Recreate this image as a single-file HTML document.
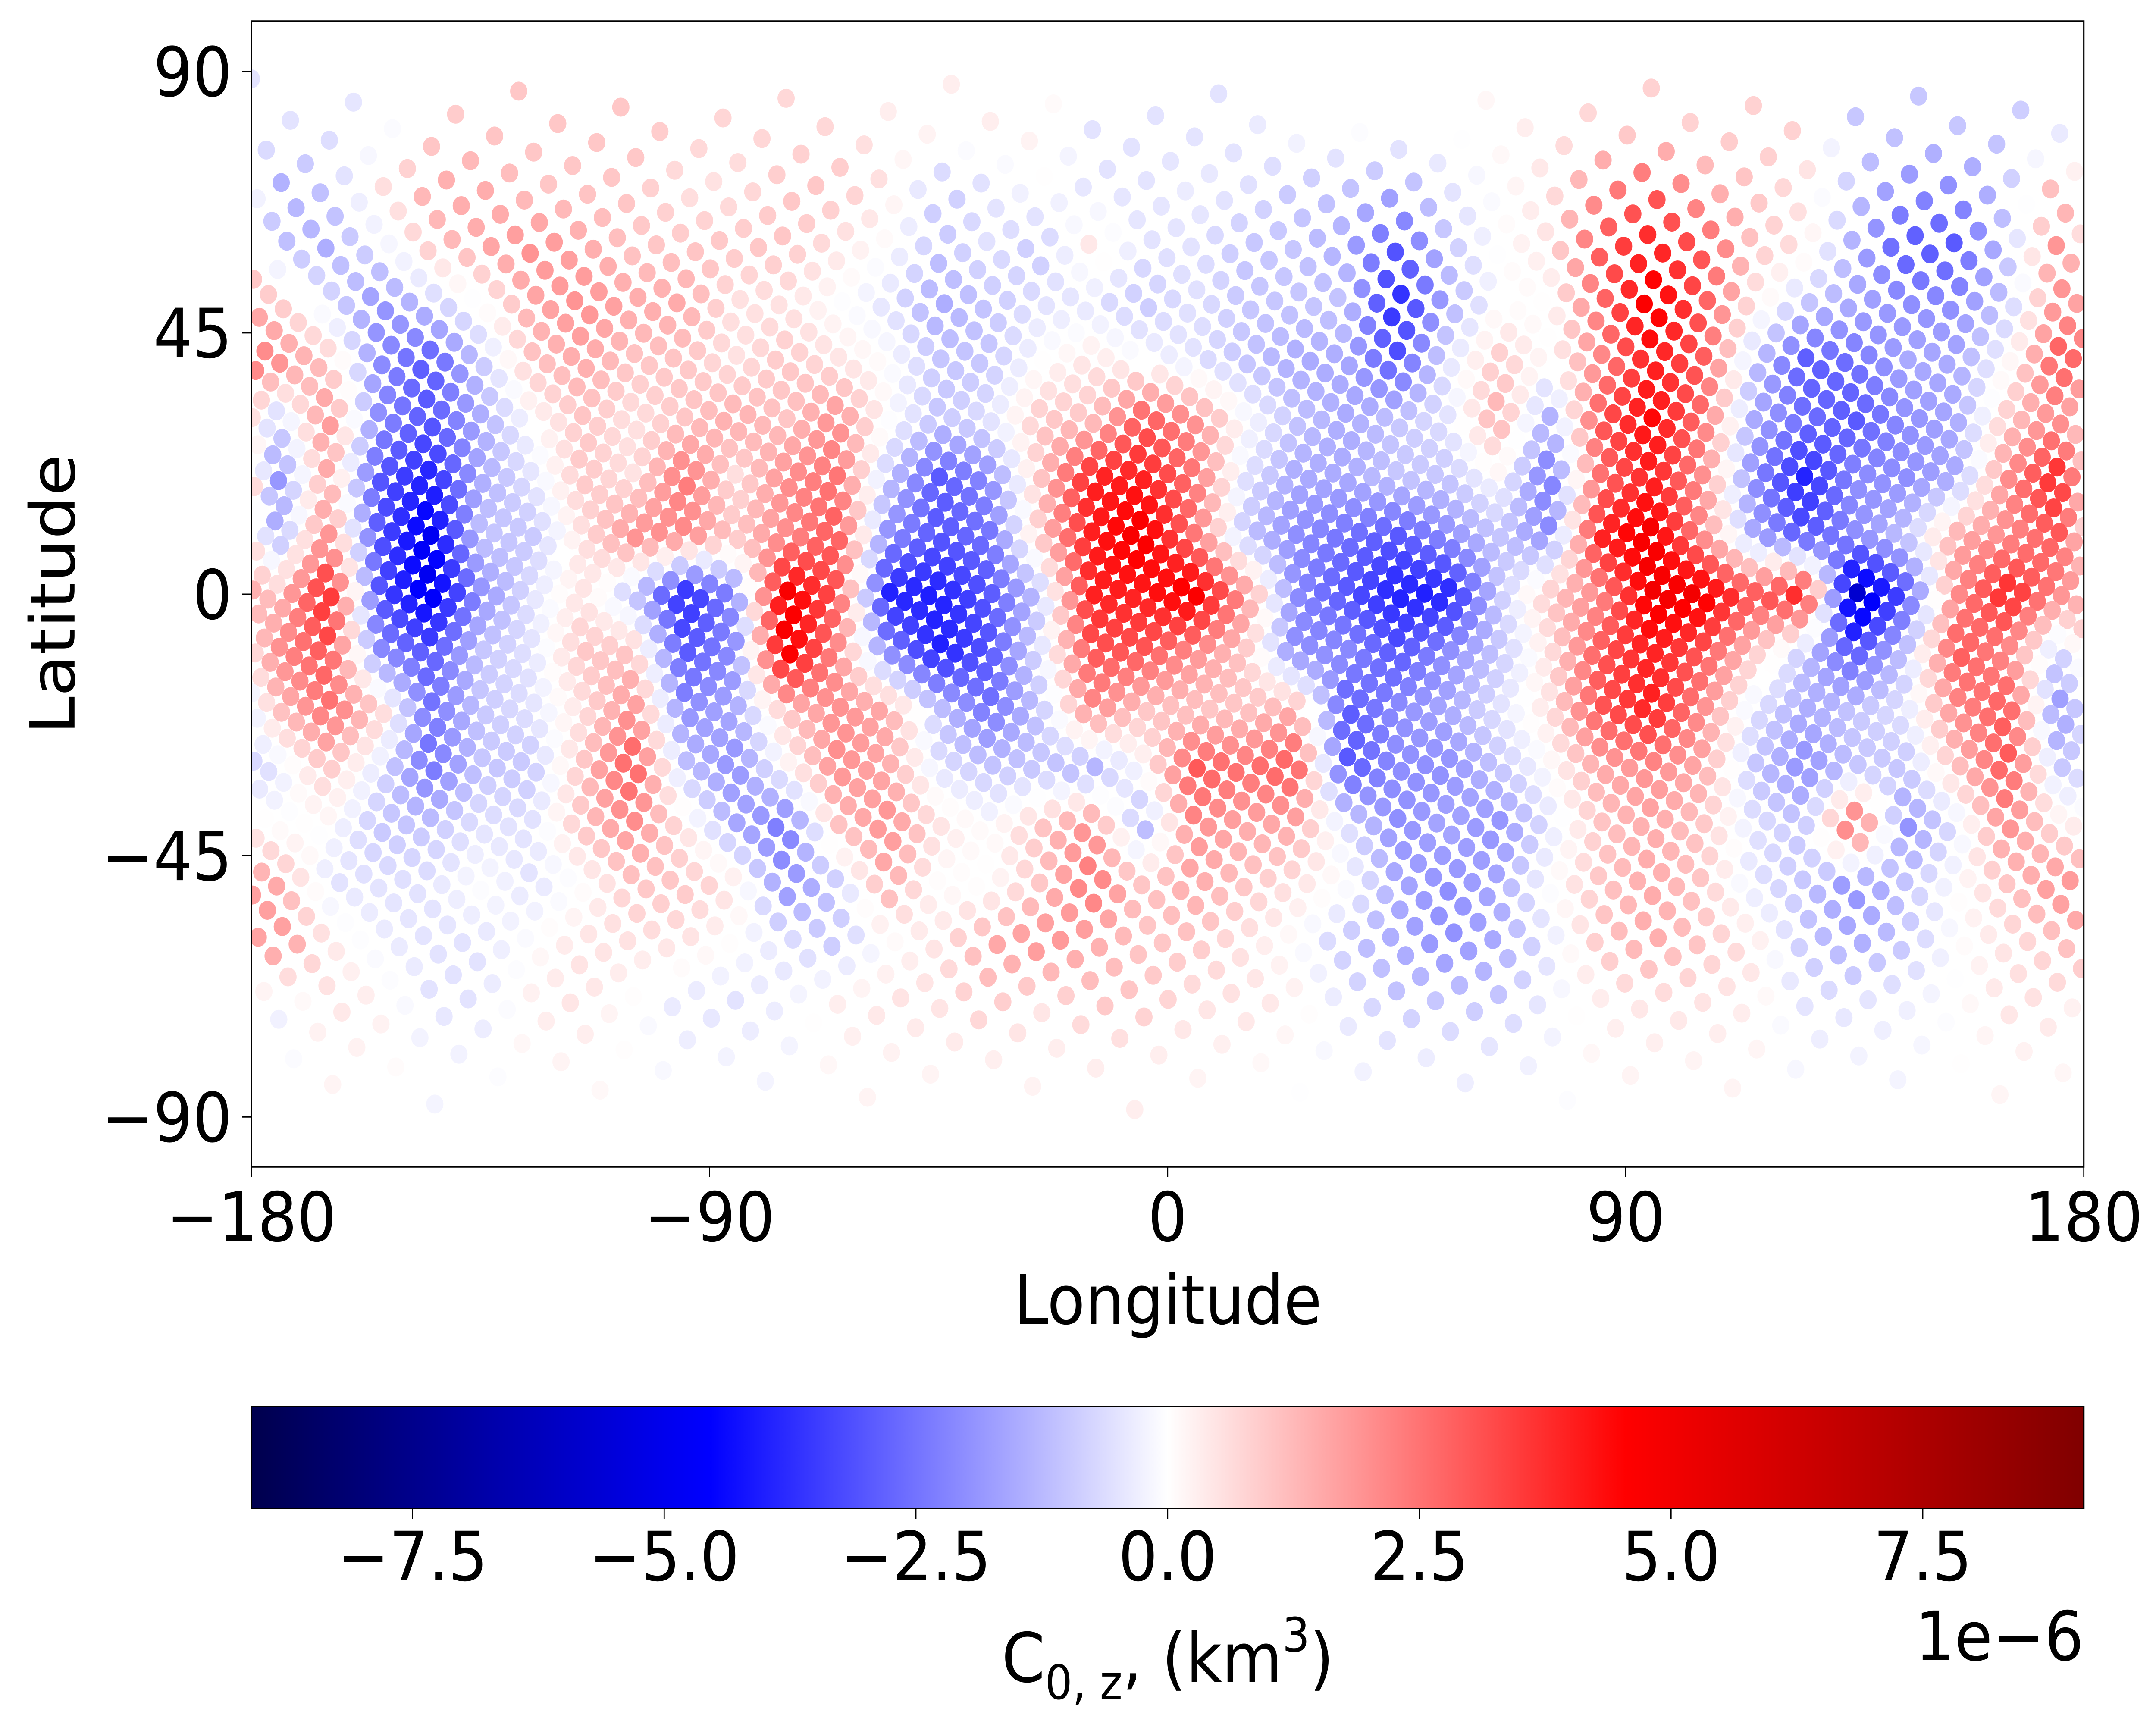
<!DOCTYPE html>
<html><head><meta charset="utf-8"><style>
html,body{margin:0;padding:0;background:#fff;width:100%;height:100%;overflow:hidden;}
svg{display:block;width:100vw;height:100vh;font-family:"DejaVu Sans","Liberation Sans",sans-serif;}
</style></head><body>
<svg id="chart" xmlns="http://www.w3.org/2000/svg" viewBox="0 0 5498 4005" preserveAspectRatio="none">
<defs>
<linearGradient id="seismic" x1="0" x2="1" y1="0" y2="0">
<stop offset="0" stop-color="#00004d"/><stop offset="0.25" stop-color="#0000ff"/><stop offset="0.5" stop-color="#ffffff"/><stop offset="0.75" stop-color="#ff0000"/><stop offset="1" stop-color="#800000"/>
</linearGradient>
<clipPath id="plotclip"><rect x="641" y="49" width="4673" height="2657"/></clipPath>
</defs>
<rect width="5498" height="4005" fill="#fff"/>
<g id="dots" clip-path="url(#plotclip)"></g>
<rect x="641" y="49" width="4673" height="2657" fill="none" stroke="#000" stroke-width="3.5"/>
<g id="axes"></g>
<text x="2978" y="3070" text-anchor="middle" font-size="158">Longitude</text>
<text transform="translate(190,1378) rotate(-90)" text-anchor="middle" font-size="158">Latitude</text>
<rect x="641" y="3262" width="4673" height="236" fill="url(#seismic)" stroke="#000" stroke-width="3.5"/>
<g id="cbaxis"></g>
<text x="2978" y="3900" text-anchor="middle" font-size="158">C<tspan font-size="110" dy="40">0, z</tspan><tspan dy="-40">, (km</tspan><tspan font-size="110" dy="-70">3</tspan><tspan dy="70">)</tspan></text>
<text x="5314" y="3850" text-anchor="end" font-size="158">1e−6</text>
</svg>
<script>
const lonCenters = [-175,-165,-155,-145,-135,-125,-115,-105,-95,-85,-75,-65,-55,-45,-35,-25,-15,-5,5,15,25,35,45,55,65,75,85,95,105,115,125,135,145,155,165,175];
const latCenters = [80,70,60,50,40,30,20,10,0,-10,-20,-30,-40,-50,-60,-70,-80];
const lat80 = [-0.5,-0.5,-0.4,0.8,1,1,1,1,0.8,0.7,0.7,0.7,0.3,0.3,0.3,0.3,-0.5,-0.5,-0.5,-0.5,0,0,0,0,0.2,0.4,0.8,0.8,0.8,0.8,0.8,-1,-1,-1,-1,-0.5];
const lat70 = [-1.5,-1,0.5,1.5,1.5,1,1,1,0.5,0.5,1,1,0.5,-1,-0.5,0,-0.5,-0.5,-0.3,-0.5,-1,-1,-1.5,-0.5,0,0.5,2,3,1.5,1,0.5,-1,-2,-2,-1,1.5];
const lat60 = [-1,-1.5,-0.5,1,1.5,2,1.5,1,1,1,1,0.5,0,-1,-0.5,-1,0.5,-0.5,-0.5,-1,-1,-1.5,-3,-1,0,0.5,3,4,3,1,0.5,-1.5,-3,-3,-1,2];
const lat50 = [1,-0.5,-2,-1,0,1.5,2,1.5,1.5,0.5,0.5,0,-0.5,-1.5,-1,-0.5,-0.5,-1,-0.5,-1,-1,-1,-4,-1.5,0,0,2.5,5,3,0.5,-1,-1.5,-2,-2,-1,2];
const lat40 = [2,1,-2,-3,-1,1,1.5,1,1,0.5,1,0.5,0,-1,-1,0,0.5,0,-0.5,-1,-1.5,-1.5,-3,-0.5,1,0,2,4,3,-1,-3,-2.5,-1.5,-1.5,0,3];
const lat30 = [-1,2,-2,-3,-1.5,0,1,0.5,1,1.5,1,2,0,-1,-0.5,1,1,3,2,0,-1,-1.5,-1,-0.5,1.5,-1.5,3,4.5,2.5,-1.5,-2.5,-3,-2,-1.5,1,2];
const lat20 = [-2,1.5,-3,-4,-1.5,-0.5,1,0.5,2.5,0.5,2,2.5,-1,-3,-2,1,4,4,2.5,-0.5,-1.5,-1.5,-1,-1,0,-2.5,2.5,4,2,-2,-4,-2,-2,-1.5,2,4];
const lat10 = [-1.5,2,-3,-5,-1,-1,0.5,2,2,1,2,3,-2,-3,-2.5,1,4,5,2.5,-1,-2,-2.5,-3,-2,-1,-2,4,5,2,-1.5,-3,-2,-1,1.5,2,3];
const lat0 = [1,4,-3,-5,-2,-0.5,0.5,-1,-4,-2,5,3,-4,-4,-3,-1,4,4,5,2,-2,-3,-4,-4,-1,1,2,5,5,3,4,-6,-3,2,4,2];
const latm10 = [2,3,-2,-3,-1,-0.5,1,1,-3,-2,5,2,-2,-4,-3,-0.5,3,3,2,1,-2,-2,-3,-2,-1,0.5,3,4,3,1,-1,-3,-1,3,2,-1];
const latm20 = [1,2.5,1,-2.5,-1,-0.5,0.5,2,-2,-1.5,1,2,1.5,-1,-2.5,-1,2,1,1,1,1.5,-3,-2,-1.5,-0.5,0.5,3,4,2,-0.5,-1.5,-1,-0.5,2,3,-2];
const latm30 = [-0.5,1,-0.5,-2.5,-1,-1,1,3,-1,-2,0,2,1.5,-0.5,-1,-1,-1.5,0,3,2.5,3,-3,-2,-2,-1,0,1.5,2,1.5,-1,-2,-1,-1,1,3,-1];
const latm40 = [0,0,-1,-1,-0.5,-0.5,1,2,0.5,-1.5,-2.5,1,2,0.5,0,1,2,-1.5,2,1.5,1.5,-0.5,-2,-1.5,-2,-0.5,1,1.5,1,-0.5,-1,3,-2,-0.5,2,0.5];
const latm50 = [1.5,-0.5,-0.5,-0.5,0,-0.5,0,1,1,0.5,-2,-1,1.5,0,0,1,2.5,1,1.5,1,0.5,0,-1.5,-2,-1.5,0,1,1.5,1,-0.5,-1,-2,-1,0,1,2];
const latm60 = [2,0.5,-0.3,-0.5,-0.5,0,0.5,0.5,0.5,0,-0.5,-1,0,0.5,1.5,2,1.5,1,1,0.5,0,-1,-1.5,-2,-1.5,-0.5,1,1.5,1,0.5,-1,-1.5,-1,0,0.5,1];
const latm70 = [-0.3,0.5,0.3,-0.5,-0.5,0.3,0.5,0,-0.5,-0.5,-0.3,0.3,0.5,0.5,1,0.5,1,1,0.5,0.5,0.3,-0.5,-1,-1,-1,-0.3,0.3,0.5,0.5,0.3,-0.5,-0.5,-0.3,0,0.5,0.5];
const latm80 = [-0.2,0.2,0.2,-0.2,-0.2,0.2,0.2,0,-0.2,-0.2,-0.2,0.2,0.2,0.2,0.3,0.2,0.3,0.3,0.2,0.2,0,-0.2,-0.3,-0.3,-0.3,-0.2,0.2,0.2,0.2,0.2,-0.2,-0.2,-0.2,0,0.2,0.2];
const valueRows = [lat80,lat70,lat60,lat50,lat40,lat30,lat20,lat10,lat0,latm10,latm20,latm30,latm40,latm50,latm60,latm70,latm80];
const lonTicks = [-180,-90,0,90,180];
const latTicks = [90,45,0,-45,-90];
const cbTicks = [-7.5,-5.0,-2.5,0.0,2.5,5.0,7.5];
const vmax = 9.1;
const pointCount = 4000;

const NS = 'http://www.w3.org/2000/svg';
const xScale = lon => 641 + (lon + 180) * 4673 / 360;
const yScale = lat => 1378 - lat * 13.47;
const cbScale = v => 641 + (v + vmax) / (2 * vmax) * 4673;

function seismic(v) {
  let t = Math.max(0, Math.min(1, (v + vmax) / (2 * vmax)));
  const st = [[0,0,77],[0,0,255],[255,255,255],[255,0,0],[128,0,0]];
  const s = Math.min(3, Math.floor(t * 4)), f = t * 4 - s;
  const a = st[s], b = st[s + 1];
  return 'rgb(' + a.map((c, i) => Math.round(c + (b[i] - c) * f)).join(',') + ')';
}
function valueAt(lon, lat) {
  let fi = (lon + 175) / 10;
  let i0 = Math.floor(fi), fx = fi - i0;
  const c0 = ((i0 % 36) + 36) % 36, c1 = (c0 + 1) % 36;
  let fj = (80 - lat) / 10;
  fj = Math.max(0, Math.min(16, fj));
  const j0 = Math.min(15, Math.floor(fj)), fy = fj - j0;
  const r0 = valueRows[j0], r1 = valueRows[j0 + 1];
  const top = r0[c0] * (1 - fx) + r0[c1] * fx;
  const bot = r1[c0] * (1 - fx) + r1[c1] * fx;
  return top * (1 - fy) + bot * fy;
}
// Fibonacci sphere sampling locations (deterministic)
const dots = document.getElementById('dots');
const golden = Math.PI * (3 - Math.sqrt(5));
for (let i = 0; i < pointCount; i++) {
  const z = 1 - 2 * (i + 0.5) / pointCount;
  const lat = Math.asin(z) * 180 / Math.PI;
  let lon = ((i * golden) * 180 / Math.PI) % 360 - 180;
  const v = valueAt(lon, lat);
  const c = document.createElementNS(NS, 'circle');
  c.setAttribute('cx', xScale(lon).toFixed(1));
  c.setAttribute('cy', yScale(lat).toFixed(1));
  c.setAttribute('r', 22);
  c.setAttribute('fill', seismic(v));
  
  
  dots.appendChild(c);
}
const axes = document.getElementById('axes');
function line(parent, x1, y1, x2, y2, name) {
  const l = document.createElementNS(NS, 'line');
  l.setAttribute('x1', x1); l.setAttribute('y1', y1); l.setAttribute('x2', x2); l.setAttribute('y2', y2);
  l.setAttribute('stroke', '#000'); l.setAttribute('stroke-width', 3);
  
  
  parent.appendChild(l);
}
function text(parent, x, y, s, anchor, name) {
  const t = document.createElementNS(NS, 'text');
  t.setAttribute('x', x); t.setAttribute('y', y); t.setAttribute('text-anchor', anchor);
  t.setAttribute('font-size', 158);
  t.textContent = s;
  
  
  parent.appendChild(t);
}
const fmt = s => String(s).replace('-', '−');
lonTicks.forEach(v => {
  const x = xScale(v);
  line(axes, x, 2706, x, 2730, 'x-tick');
  text(axes, x, 2878, fmt(v), 'middle', 'x-tick-label');
});
latTicks.forEach(v => {
  const y = yScale(v);
  line(axes, 617, y, 641, y, 'y-tick');
  text(axes, 592, y + 57, fmt(v), 'end', 'y-tick-label');
});
const cb = document.getElementById('cbaxis');
cbTicks.forEach(v => {
  const x = cbScale(v);
  line(cb, x, 3498, x, 3522, 'colorbar-tick');
  text(cb, x, 3665, fmt(v.toFixed(1)), 'middle', 'colorbar-tick-label');
});
</script>
</body></html>
